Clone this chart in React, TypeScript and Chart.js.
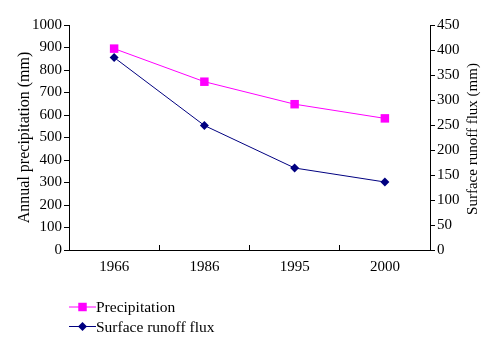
import React, { useEffect, useRef } from "react";
import { Chart, registerables } from "chart.js";

Chart.register(...registerables);

const years = ["1966", "1986", "1995", "2000"];
const precipitation = [895, 748, 648, 585];
const runoff = [385, 249, 164, 136];
const leftTitle = "Annual precipitation (mm)";
const rightTitle = "Surface runoff flux (mm)";
const seriesNames = ["Precipitation", "Surface runoff flux"];

const FONT = "'Liberation Serif', 'Times New Roman', serif";

function drawMarker(ctx: CanvasRenderingContext2D, style: string, x: number, y: number, r: number, color: string) {
  ctx.save();
  ctx.fillStyle = color;
  ctx.beginPath();
  if (style === "rect") {
    const s = r * Math.SQRT1_2;
    ctx.rect(x - s, y - s, 2 * s, 2 * s);
  } else {
    ctx.moveTo(x, y - r);
    ctx.lineTo(x + r, y);
    ctx.lineTo(x, y + r);
    ctx.lineTo(x - r, y);
    ctx.closePath();
  }
  ctx.fill();
  ctx.restore();
}

const extrasPlugin = {
  id: "extras",
  afterDraw(chart: any) {
    const ctx: CanvasRenderingContext2D = chart.ctx;
    // right axis title (reads bottom-to-top)
    ctx.save();
    ctx.fillStyle = "#000";
    ctx.font = `15px ${FONT}`;
    ctx.textAlign = "center";
    ctx.textBaseline = "middle";
    ctx.translate(473, 139);
    ctx.rotate(-Math.PI / 2);
    ctx.fillText(rightTitle, 0, 0);
    ctx.restore();

    // legend
    const rows = [307, 326.5];
    chart.data.datasets.forEach((ds: any, i: number) => {
      const y = rows[i];
      ctx.save();
      ctx.strokeStyle = ds.borderColor;
      ctx.lineWidth = 1;
      ctx.beginPath();
      ctx.moveTo(69, y);
      ctx.lineTo(96, y);
      ctx.stroke();
      ctx.restore();
      drawMarker(ctx, ds.pointStyle, 82.5, y, ds.pointRadius, ds.backgroundColor);
      ctx.save();
      ctx.fillStyle = "#000";
      ctx.font = `15.5px ${FONT}`;
      ctx.textAlign = "left";
      ctx.textBaseline = "middle";
      ctx.fillText(ds.label, 96, y + 1);
      ctx.restore();
    });
  },
};

export default function App() {
  const ref = useRef<HTMLCanvasElement | null>(null);
  useEffect(() => {
    if (!ref.current) return;
    const tickFont = { family: FONT, size: 15 };
    const plain = (v: any) => String(v);
    const chart = new Chart(ref.current, {
      type: "line",
      data: {
        labels: years,
        datasets: [
          {
            label: seriesNames[0],
            data: precipitation,
            yAxisID: "y",
            borderColor: "#FF00FF",
            backgroundColor: "#FF00FF",
            borderWidth: 1,
            pointStyle: "rect",
            pointRadius: 6,
            pointBorderWidth: 0,
            tension: 0,
          },
          {
            label: seriesNames[1],
            data: runoff,
            yAxisID: "y1",
            borderColor: "#000080",
            backgroundColor: "#000080",
            borderWidth: 1,
            pointStyle: "rectRot",
            pointRadius: 4.5,
            pointBorderWidth: 0,
            tension: 0,
          },
        ] as any,
      },
      options: {
        responsive: false,
        animation: false,
        layout: { padding: { top: 25, left: 0, right: 0, bottom: 0 } },
        plugins: { legend: { display: false }, tooltip: { enabled: false } },
        scales: {
          x: {
            type: "category",
            offset: true,
            grid: { offset: true, drawOnChartArea: false, drawTicks: true, tickLength: -5, color: "#000" },
            border: { color: "#000", width: 1 },
            ticks: { color: "#000", font: tickFont, padding: 13, maxRotation: 0 },
            afterFit: (s: any) => { s.height = 104; },
          },
          y: {
            position: "left",
            min: 0,
            max: 1000,
            ticks: { stepSize: 100, color: "#000", font: tickFont, padding: 2, callback: plain },
            grid: { drawOnChartArea: false, tickLength: 5, color: "#000" },
            border: { color: "#000", width: 1 },
            title: { display: true, text: leftTitle, color: "#000", font: { family: FONT, size: 16 }, padding: { top: 15.4, bottom: 0 } },
            afterFit: (s: any) => { s.width = 69; },
          },
          y1: {
            position: "right",
            min: 0,
            max: 450,
            ticks: { stepSize: 50, color: "#000", font: tickFont, padding: 2, callback: plain },
            grid: { drawOnChartArea: false, tickLength: 5, color: "#000" },
            border: { color: "#000", width: 1 },
            afterFit: (s: any) => { s.width = 70; },
          },
        },
      } as any,
      plugins: [extrasPlugin],
    });
    return () => chart.destroy();
  }, []);
  return (
    <div style={{ position: "fixed", left: 0, top: 0, width: 500, height: 354, background: "#fff" }}>
      <canvas ref={ref} width={500} height={354} />
    </div>
  );
}
